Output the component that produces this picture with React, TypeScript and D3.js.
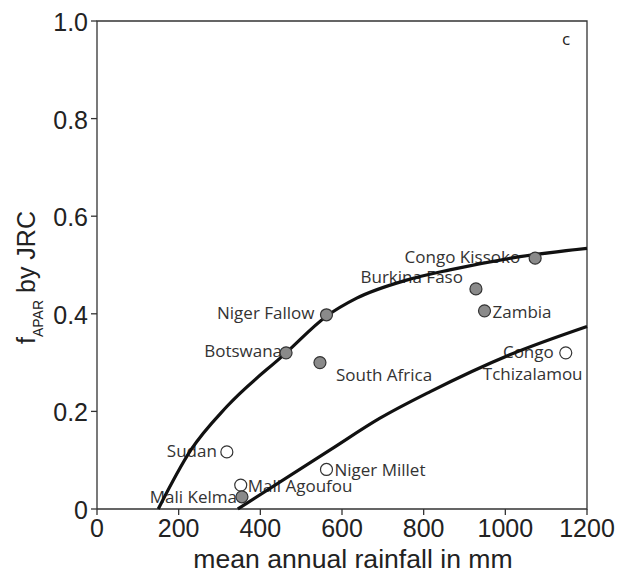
import React from "react";
import * as d3 from "d3";

// ---- data ----
const sites = [
  "Sudan",
  "Mali Agoufou",
  "Mali Kelma",
  "Botswana",
  "Niger Fallow",
  "South Africa",
  "Niger Millet",
  "Burkina Faso",
  "Zambia",
  "Congo Kissoko",
  "Congo Tchizalamou",
];
const rainfall = [318, 352, 355, 463, 562, 546, 562, 928, 949, 1073, 1148];
const fapar = [0.117, 0.049, 0.025, 0.32, 0.398, 0.3, 0.081, 0.451, 0.406, 0.514, 0.32];
const filled = [false, false, true, true, true, true, false, true, true, true, false];

const upperRain = [150, 230, 318, 463, 562, 636, 758, 864, 1036, 1200];
const upperF = [0, 0.121, 0.21, 0.32, 0.395, 0.432, 0.469, 0.49, 0.517, 0.534];
const lowerRain = [345, 571, 693, 815, 1011, 1200];
const lowerF = [0, 0.121, 0.186, 0.24, 0.316, 0.374];

const xTicks = [0, 200, 400, 600, 800, 1000, 1200];
const yTicks = [0, 0.2, 0.4, 0.6, 0.8, 1.0];
const yTickLabels = ["0", "0.2", "0.4", "0.6", "0.8", "1.0"];

// ---- layout ----
const W = 619;
const H = 575;
const L = 97, R = 587, T = 21, B = 509;

type Lab = { lines: { text: string; dx: number; dy: number; anchor: string }[] };
const labelLayout: Record<string, Lab> = {
  "Sudan": { lines: [{ text: "Sudan", dx: -10, dy: 5, anchor: "end" }] },
  "Mali Agoufou": { lines: [{ text: "Mali Agoufou", dx: 7, dy: 7, anchor: "start" }] },
  "Mali Kelma": { lines: [{ text: "Mali Kelma", dx: -5, dy: 6, anchor: "end" }] },
  "Botswana": { lines: [{ text: "Botswana", dx: -4, dy: 4, anchor: "end" }] },
  "Niger Fallow": { lines: [{ text: "Niger Fallow", dx: -12, dy: 4, anchor: "end" }] },
  "South Africa": { lines: [{ text: "South Africa", dx: 16, dy: 18, anchor: "start" }] },
  "Niger Millet": { lines: [{ text: "Niger Millet", dx: 8, dy: 7, anchor: "start" }] },
  "Burkina Faso": { lines: [{ text: "Burkina Faso", dx: -13, dy: -6, anchor: "end" }] },
  "Zambia": { lines: [{ text: "Zambia", dx: 8, dy: 7, anchor: "start" }] },
  "Congo Kissoko": { lines: [{ text: "Congo Kissoko", dx: -15, dy: 5, anchor: "end" }] },
  "Congo Tchizalamou": {
    lines: [
      { text: "Congo", dx: -12, dy: 5, anchor: "end" },
      { text: "Tchizalamou", dx: -83, dy: 27, anchor: "start" },
    ],
  },
};

export default function App() {
  const x = d3.scaleLinear().domain([0, 1200]).range([L, R]);
  const y = d3.scaleLinear().domain([0, 1]).range([B, T]);
  const line = d3
    .line<[number, number]>()
    .x((d) => x(d[0]))
    .y((d) => y(d[1]))
    .curve(d3.curveMonotoneX);
  const upper = line(upperRain.map((r, i) => [r, upperF[i]] as [number, number]));
  const lower = line(lowerRain.map((r, i) => [r, lowerF[i]] as [number, number]));

  const tickFont = "'Liberation Sans', Arial, sans-serif";
  const labFont = "'Open Sans', sans-serif";
  const axisColor = "#333";

  return (
    <svg
      width={W}
      height={H}
      style={{ position: "absolute", left: 0, top: 0, background: "#fff" }}
    >
      <rect x={0} y={0} width={W} height={H} fill="#fff" />
      {/* frame */}
      <path
        d={`M${L},${B}V${T}H${R}V${B}H${L}`}
        fill="none"
        stroke={axisColor}
        strokeWidth={1.3}
      />
      {/* y ticks */}
      {yTicks.map((t, i) => (
        <g key={"y" + i}>
          <line x1={L - 6} x2={L} y1={y(t)} y2={y(t)} stroke={axisColor} strokeWidth={1.3} />
          <text
            x={L - 9}
            y={y(t) + 1}
            textAnchor="end"
            dominantBaseline="central"
            fontFamily={tickFont}
            fontSize={25}
            fill="#222"
          >
            {yTickLabels[i]}
          </text>
        </g>
      ))}
      {/* x ticks */}
      {xTicks.map((t, i) => (
        <g key={"x" + i}>
          <line x1={x(t)} x2={x(t)} y1={B} y2={B + 6} stroke={axisColor} strokeWidth={1.3} />
          <text
            x={x(t)}
            y={537}
            textAnchor="middle"
            fontFamily={tickFont}
            fontSize={25}
            fill="#222"
          >
            {String(t)}
          </text>
        </g>
      ))}
      {/* axis titles */}
      <text
        x={353}
        y={568}
        textAnchor="middle"
        fontFamily={tickFont}
        fontSize={26.6}
        fill="#222"
      >
        mean annual rainfall in mm
      </text>
      <text
        transform="translate(35,344) rotate(-90)"
        fontFamily={tickFont}
        fontSize={25}
        fill="#222"
      >
        f
        <tspan fontSize={14} dy={8}>APAR</tspan>
        <tspan dy={-8}> by JRC</tspan>
      </text>
      {/* panel letter */}
      <text x={566} y={45} textAnchor="middle" fontFamily={labFont} fontSize={17} fill="#222">
        c
      </text>
      {/* labels */}
      {sites.map((s, i) =>
        labelLayout[s].lines.map((ln, j) => (
          <text
            key={s + j}
            x={x(rainfall[i]) + ln.dx}
            y={y(fapar[i]) + ln.dy}
            textAnchor={ln.anchor as any}
            fontFamily={labFont}
            fontSize={17}
            fill="#333"
          >
            {ln.text}
          </text>
        ))
      )}
      {/* curves */}
      <path d={upper || ""} fill="none" stroke="#111" strokeWidth={3.2} />
      <path d={lower || ""} fill="none" stroke="#111" strokeWidth={3.2} />
      {/* points */}
      {sites.map((s, i) => (
        <circle
          key={"p" + s}
          cx={x(rainfall[i])}
          cy={y(fapar[i])}
          r={6}
          fill={filled[i] ? "#8a8a8a" : "#fff"}
          stroke="#333"
          strokeWidth={1.2}
        />
      ))}
    </svg>
  );
}
